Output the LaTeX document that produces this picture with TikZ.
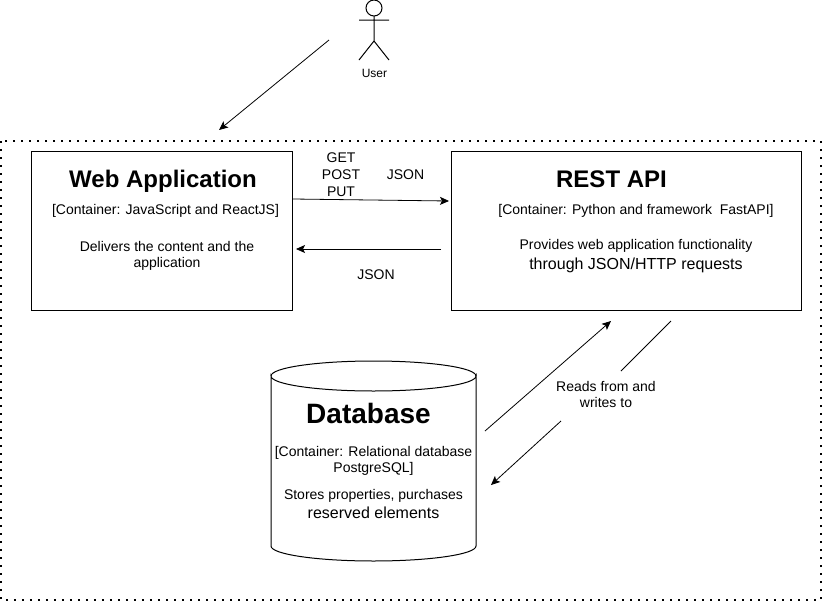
\documentclass[tikz,border=0pt]{standalone}
\usepackage{fontspec}
\setmainfont{Liberation Sans}
\usetikzlibrary{arrows.meta}
\tikzset{
  x=1pt,y=-1pt,
  boxnode/.style={draw=black,line width=1pt,inner sep=0pt,anchor=north west},
  link/.style={draw=black,line width=0.8pt,-{Stealth[length=9pt,width=8pt,inset=2pt]}},
  plainlink/.style={draw=black,line width=0.8pt},
  lab/.style={font=\fontsize{14}{16}\selectfont,align=center,text=black,inner sep=0pt},
  small/.style={font=\fontsize{12}{14.5}\selectfont,align=center,text=black,inner sep=0pt},
  big/.style={font=\fontsize{24}{28}\selectfont\bfseries,inner sep=0pt,text=black},
  mid/.style={font=\fontsize{16}{18}\selectfont,inner sep=0pt,text=black},
  frameline/.style={draw=black,line width=1.8pt,dash pattern=on 1.8pt off 6.2pt},
  limb/.style={draw=black,line width=1pt},
}
\begin{document}
\begin{tikzpicture}
\useasboundingbox (0,0) rectangle (823,603);
\fill[white] (0,0) rectangle (823,603);
% frame
\draw[frameline] (1,141) rectangle (821,600);
% boxes
\node[boxnode,minimum width=261pt,minimum height=159pt] (web) at (31,151) {};
\node[boxnode,minimum width=350pt,minimum height=159pt] (api) at (451,151) {};
% cylinder
\path[fill=white,draw=black,line width=1pt] (271,376) arc[start angle=180,end angle=0,x radius=102.5,y radius=15]
  -- (476,546) arc[start angle=0,end angle=180,x radius=102.5,y radius=15] -- cycle;
\draw[black,line width=1pt] (271,376) arc[start angle=180,end angle=360,x radius=102.5,y radius=15];
% actor
\draw[limb] (374,8) circle[radius=8];
\draw[limb] (374,16) -- (374,41) (359,20) -- (389,20) (374,41) -- (359,60) (374,41) -- (389,60);
\node[small] (user) at (374.5,73.5) {User};
% Web text
\node[big] (webt) at (163,181) {Web Application};
\node[lab] (webc) at (165.5,210.5) {[Container: JavaScript and ReactJS]};
\node[lab] (webd) at (167,256) {Delivers the content and the\\application};
% API text
\node[big] (apit) at (611.5,179.5) {REST API};
\node[lab] (apic) at (636,210.5) {[Container: Python and framework\ \ FastAPI]};
\node[lab] (apid) at (636,246) {Provides web application functionality};
\node[mid] (apie) at (636,265) {through JSON/HTTP requests};
% DB text
\node[big,font=\fontsize{28}{32}\selectfont\bfseries] (dbt) at (368.5,413.5) {Database};
\node[lab] (dbc2) at (373.5,461) {[Container: Relational database\\PostgreSQL]};
\node[lab] (dbd) at (373.5,496) {Stores properties, purchases};
\node[mid] (dbe) at (373.5,513) {reserved elements};
% labels
\node[lab,font=\fontsize{14}{17}\selectfont] (verbs) at (341,175) {GET\\POST\\PUT};
\node[lab] (j1) at (405.5,175) {JSON};
\node[lab] (j2) at (376,275) {JSON};
\node[lab] (rw) at (606,394) {Reads from and\\writes to};
% connectors
\coordinate (u1) at (329,40); \coordinate (u2) at (219,130);
\draw[link] (u1) -- (u2);
\coordinate (a1) at (293,199); \coordinate (a2) at (449,201);
\draw[link] (a1) -- (a2);
\coordinate (b1) at (441,249); \coordinate (b2) at (296,249);
\draw[link] (b1) -- (b2);
\coordinate (c1) at (485,431); \coordinate (c2) at (611,321);
\draw[link] (c1) -- (c2);
\coordinate (d1) at (671,321); \coordinate (d2) at (621,371);
\draw[plainlink] (d1) -- (d2);
\coordinate (e1) at (561,421); \coordinate (e2) at (491,485);
\draw[link] (e1) -- (e2);
\end{tikzpicture}
\end{document}
